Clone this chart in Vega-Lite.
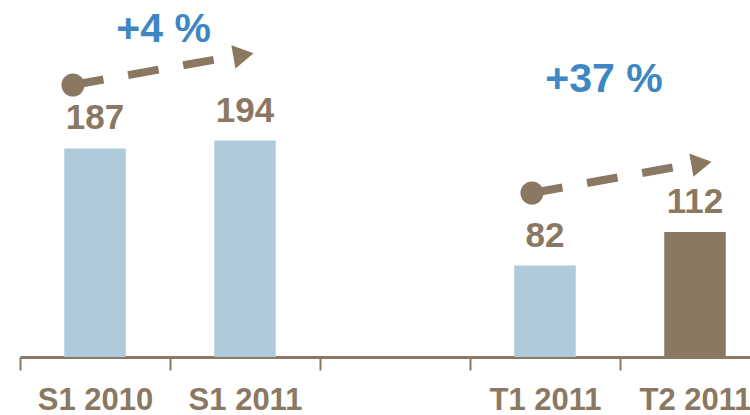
{
  "$schema": "https://vega.github.io/schema/vega-lite/v6.json",
  "width": 750,
  "height": 357,
  "autosize": {"type": "none"},
  "padding": {"left": 20, "top": 0, "right": 0, "bottom": 58},
  "config": {"view": {"stroke": null}, "font": "Liberation Sans"},
  "datasets": {
    "bars": [
      {"period": "S1 2010", "value": 187, "kind": "past"},
      {"period": "S1 2011", "value": 194, "kind": "past"},
      {"period": "T1 2011", "value": 82, "kind": "past"},
      {"period": "T2 2011", "value": 112, "kind": "current"}
    ],
    "arrows": [
      {"arrow": "S1", "pos": 0.353, "value": 243.8},
      {"arrow": "S1", "pos": 1.40, "value": 269.0},
      {"arrow": "T", "pos": 3.413, "value": 147.0},
      {"arrow": "T", "pos": 4.45, "value": 172.3}
    ],
    "starts": [
      {"arrow": "S1", "pos": 0.353, "value": 243.8},
      {"arrow": "T", "pos": 3.413, "value": 147.0}
    ],
    "heads": [
      {"arrow": "S1", "pos": 1.49, "value": 270.7},
      {"arrow": "T", "pos": 4.543, "value": 173.5}
    ],
    "growth": [
      {"label": "+4 %", "pos": 0.957, "value": 282.4},
      {"label": "+37 %", "pos": 3.893, "value": 237.5}
    ]
  },
  "layer": [
    {
      "layer": [
        {
          "data": {"name": "bars"},
          "mark": {"type": "bar", "width": {"band": 0.41}},
          "encoding": {
            "x": {
              "field": "period",
              "type": "nominal",
              "sort": null,
              "scale": {"domain": ["S1 2010", "S1 2011", " ", "T1 2011", "T2 2011"], "paddingInner": 0, "paddingOuter": 0},
              "axis": {
                "title": null,
                "domainColor": "#8B7862",
                "domainWidth": 3,
                "tickColor": "#8B7862",
                "tickWidth": 2,
                "tickSize": 13,
                "tickBand": "extent",
                "labelFontSize": 31,
                "labelFontWeight": "bold",
                "labelColor": "#8B7862",
                "labelPadding": 15,
                "labelBaseline": "top",
                "labelAngle": 0,
                "labelFont": "Liberation Sans"
              }
            },
            "y": {"field": "value", "type": "quantitative", "scale": {"domain": [0, 320], "nice": false, "zero": true}, "axis": null},
            "color": {"field": "kind", "type": "nominal", "scale": {"domain": ["past", "current"], "range": ["#AECADB", "#8B7862"]}, "legend": null}
          }
        },
        {
          "data": {"name": "bars"},
          "mark": {"type": "text", "fontSize": 35, "fontWeight": "bold", "color": "#8B7862", "dy": -19, "baseline": "alphabetic", "align": "center", "font": "Liberation Sans"},
          "encoding": {
            "x": {"field": "period", "type": "nominal", "sort": null},
            "y": {"field": "value", "type": "quantitative"},
            "text": {"field": "value", "type": "quantitative"}
          }
        }
      ]
    },
    {
      "layer": [
        {
          "data": {"name": "arrows"},
          "mark": {"type": "line", "strokeDash": [31, 25], "strokeWidth": 8, "color": "#8B7862"},
          "encoding": {
            "x": {"field": "pos", "type": "quantitative", "scale": {"domain": [0, 5], "nice": false, "zero": false}, "axis": null},
            "y": {"field": "value", "type": "quantitative"},
            "detail": {"field": "arrow"}
          }
        },
        {
          "data": {"name": "starts"},
          "mark": {"type": "point", "shape": "circle", "filled": true, "size": 530, "opacity": 1, "color": "#8B7862"},
          "encoding": {
            "x": {"field": "pos", "type": "quantitative"},
            "y": {"field": "value", "type": "quantitative"}
          }
        },
        {
          "data": {"name": "heads"},
          "mark": {"type": "point", "shape": "triangle-right", "filled": true, "size": 560, "angle": -10, "opacity": 1, "color": "#8B7862"},
          "encoding": {
            "x": {"field": "pos", "type": "quantitative"},
            "y": {"field": "value", "type": "quantitative"}
          }
        },
        {
          "data": {"name": "growth"},
          "mark": {"type": "text", "fontSize": 41, "fontWeight": "bold", "color": "#3F86C5", "baseline": "alphabetic", "align": "center", "font": "Liberation Sans"},
          "encoding": {
            "x": {"field": "pos", "type": "quantitative"},
            "y": {"field": "value", "type": "quantitative"},
            "text": {"field": "label"}
          }
        }
      ]
    }
  ],
  "resolve": {"scale": {"x": "independent"}}
}
